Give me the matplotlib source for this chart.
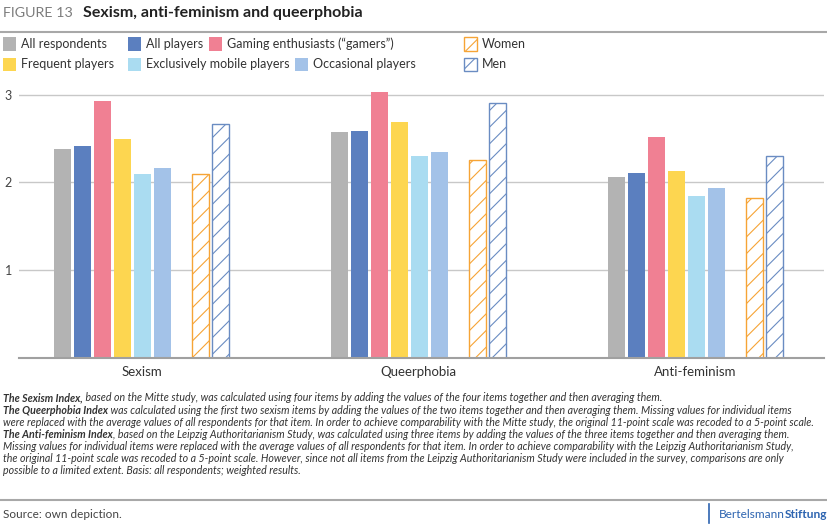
import matplotlib
matplotlib.use("Agg")
import matplotlib.pyplot as plt
from matplotlib.patches import Rectangle
from matplotlib.lines import Line2D
import numpy as np

plt.rcParams['font.family'] = ['Lato', 'DejaVu Sans']
plt.rcParams['hatch.linewidth'] = 0.8

# --- data ---
groups = ["Sexism", "Queerphobia", "Anti-feminism"]
series = ["All respondents", "All players", "Gaming enthusiasts (\u201cgamers\u201d)",
          "Frequent players", "Exclusively mobile players", "Occasional players",
          "Women", "Men"]
all_respondents = [2.38, 2.58, 2.06]
all_players = [2.42, 2.59, 2.11]
gamers = [2.93, 3.03, 2.52]
frequent = [2.49, 2.69, 2.13]
mobile = [2.10, 2.30, 1.85]
occasional = [2.16, 2.35, 1.94]
women = [2.10, 2.26, 1.82]
men = [2.67, 2.90, 2.30]
yticks = [1, 2, 3]

colors = ["#b3b3b3", "#5b7fbf", "#f08093", "#fdd650", "#aadcf1", "#a3c2e8",
          "#f6a436", "#6a8cc2"]
hatched = [False] * 6 + [True, True]
values = [all_respondents, all_players, gamers, frequent, mobile, occasional, women, men]

W, H = 828, 526
fig = plt.figure(figsize=(W / 100, H / 100), dpi=100)


def fx(x):
    return x / W


def fy(y):
    return 1 - y / H


# axes: x from 19 to 824 px, y=0 at 357.7px, y=3 at 94.7px
ymax = 3.1
top_px = 94.7 - 0.1 * 87.7
ax = fig.add_axes([fx(19), fy(357.7), (824 - 19) / W, (357.7 - top_px) / H])

step = 20 / 277
width = 16.3 / 277
slots = np.array([0, 1, 2, 3, 4, 5, 6.9, 7.9])
offsets = (slots - (slots[0] + slots[-1]) / 2) * step
x = np.arange(len(groups))

for i, vals in enumerate(values):
    if hatched[i]:
        ax.bar(x + offsets[i], vals, width, facecolor="white", edgecolor=colors[i],
               hatch="//", linewidth=1.0, zorder=3)
    else:
        ax.bar(x + offsets[i], vals, width, color=colors[i], linewidth=0, zorder=3)

ax.set_xlim((19 - 141.5) / 277, (824 - 141.5) / 277)
ax.set_ylim(0, ymax)
ax.set_yticks(yticks)
ax.set_yticklabels([str(t) for t in yticks], fontsize=9, color="#444444")
ax.set_xticks(x)
ax.set_xticklabels(groups, fontsize=9.5, color="#333333")
ax.tick_params(axis="both", length=0)
ax.tick_params(axis="y", pad=5)
ax.tick_params(axis="x", pad=6)
ax.grid(axis="y", color="#c8c8c8", linewidth=1.0, zorder=0)
for s in ["top", "right", "left"]:
    ax.spines[s].set_visible(False)
ax.spines["bottom"].set_color("#a0a0a0")
ax.spines["bottom"].set_linewidth(1.5)
ax.spines["bottom"].set_zorder(4)

# --- title ---
fig.text(fx(3), fy(13), "FIGURE 13", fontsize=10.3, color="#7c7c7c",
         va="center", ha="left")
fig.text(fx(83), fy(13), "Sexism, anti-feminism and queerphobia", fontsize=11.5,
         color="#222222", fontweight="bold", va="center", ha="left")
fig.add_artist(Line2D([0, 1], [fy(32), fy(32)], color="#a8a8a8", linewidth=1.5,
                      transform=fig.transFigure))

# --- legend (manual layout) ---
legend_pos = [(3, 44), (128, 44), (209, 44), (3, 64), (128, 64), (295, 64),
              (464, 44), (464, 64)]
sq = 13
for i, (lx, ly) in enumerate(legend_pos):
    if hatched[i]:
        r = Rectangle((fx(lx), fy(ly + sq / 2)), sq / W, sq / H, facecolor="white",
                      edgecolor=colors[i], hatch="//", linewidth=1.0,
                      transform=fig.transFigure)
    else:
        r = Rectangle((fx(lx), fy(ly + sq / 2)), sq / W, sq / H, facecolor=colors[i],
                      edgecolor="none", transform=fig.transFigure)
    fig.add_artist(r)
    fig.text(fx(lx + sq + 5), fy(ly), series[i], fontsize=9, color="#333333",
             va="center", ha="left")

# --- footnote ---
note_lines = [
    [("The Sexism Index,", True),
     (" based on the Mitte study, was calculated using four items by adding the values of the four items together and then averaging them.", False)],
    [("The Queerphobia Index", True),
     (" was calculated using the first two sexism items by adding the values of the two items together and then averaging them. Missing values for individual items", False)],
    [("were replaced with the average values of all respondents for that item. In order to achieve comparability with the Mitte study, the original 11-point scale was recoded to a 5-point scale.", False)],
    [("The Anti-feminism Index", True),
     (", based on the Leipzig Authoritarianism Study, was calculated using three items by adding the values of the three items together and then averaging them.", False)],
    [("Missing values for individual items were replaced with the average values of all respondents for that item. In order to achieve comparability with the Leipzig Authoritarianism Study,", False)],
    [("the original 11-point scale was recoded to a 5-point scale. However, since not all items from the Leipzig Authoritarianism Study were included in the survey, comparisons are only", False)],
    [("possible to a limited extent. Basis: all respondents; weighted results.", False)],
]
note_y = [397.7, 410, 422.3, 434.3, 446.7, 459, 471]
renderer = fig.canvas.get_renderer()
for segs, ly in zip(note_lines, note_y):
    cx = 3
    for txt, bold in segs:
        t = fig.text(fx(cx), fy(ly), txt, fontsize=7.65, style="italic",
                     fontweight="bold" if bold else "normal", color="#333333",
                     va="center", ha="left")
        bb = t.get_window_extent(renderer)
        cx += bb.width

# --- bottom ---
fig.add_artist(Line2D([0, 1], [fy(500), fy(500)], color="#a8a8a8", linewidth=1.5,
                      transform=fig.transFigure))
fig.text(fx(3), fy(514), "Source: own depiction.", fontsize=8.5, color="#444444",
         va="center", ha="left")
fig.add_artist(Line2D([fx(709), fx(709)], [fy(504), fy(523)], color="#2d64b0",
                      linewidth=1.2, transform=fig.transFigure))
t2 = fig.text(fx(827), fy(514), "Stiftung", fontsize=8.6,
              color="#2d64b0", fontweight="bold", va="center", ha="right")
bb = t2.get_window_extent(renderer)
fig.text(bb.x0 / W, fy(514), "Bertelsmann", fontsize=8.6, color="#2d64b0",
         va="center", ha="right")

fig.savefig("out.png", dpi=100)
